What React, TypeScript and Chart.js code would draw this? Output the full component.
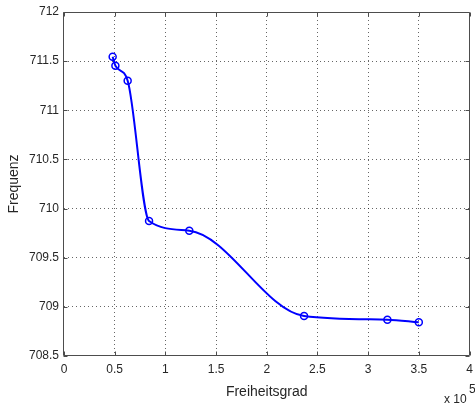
import React, { useEffect, useRef } from "react";
import { Chart, registerables } from "chart.js";

Chart.register(...registerables);

// Freiheitsgrad (degrees of freedom) and Frequenz values
const freiheitsgrad = [48000, 50700, 62800, 83900, 123600, 236800, 319000, 350000];
const frequenz = [711.545, 711.454, 711.301, 709.874, 709.775, 708.907, 708.870, 708.843];

const xTicks = [0, 50000, 100000, 150000, 200000, 250000, 300000, 350000, 400000];
const yTicks = [708.5, 709, 709.5, 710, 710.5, 711, 711.5, 712];

const xTitle = "Freiheitsgrad";
const yTitle = "Frequenz";
const xExponentBase = "x 10";
const xExponent = "5";

const FONT = "'Liberation Sans', Arial, Helvetica, sans-serif";

export default function App() {
  const canvasRef = useRef<HTMLCanvasElement | null>(null);

  useEffect(() => {
    const canvas = canvasRef.current;
    if (!canvas) return;

    const frame = {
      id: "matlabFrame",
      afterDraw(chart: any) {
        const { ctx, chartArea } = chart;
        const { left, right, top, bottom } = chartArea;
        const xs = chart.scales.x;
        const ys = chart.scales.y;
        ctx.save();
        ctx.strokeStyle = "#4d4d4d";
        ctx.lineWidth = 1;
        const L = Math.round(left) - 0.5;
        const R = Math.round(right) - 0.5;
        const T = Math.round(top) + 0.5;
        const B = Math.round(bottom) - 0.5;
        ctx.beginPath();
        ctx.rect(L, T, R - L, B - T);
        ctx.stroke();
        ctx.beginPath();
        xTicks.forEach((v) => {
          const p = Math.round(xs.getPixelForValue(v)) + 0.5;
          ctx.moveTo(p, B);
          ctx.lineTo(p, B - 4);
          ctx.moveTo(p, T);
          ctx.lineTo(p, T + 4);
        });
        yTicks.forEach((v) => {
          const p = Math.round(ys.getPixelForValue(v)) + 0.5;
          ctx.moveTo(L, p);
          ctx.lineTo(L + 4, p);
          ctx.moveTo(R, p);
          ctx.lineTo(R - 4, p);
        });
        ctx.stroke();

        ctx.fillStyle = "#262626";
        ctx.font = `14px ${FONT}`;
        ctx.textAlign = "center";
        ctx.textBaseline = "alphabetic";
        ctx.fillText(xTitle, (left + right) / 2, 396);
        ctx.save();
        ctx.translate(18, (top + bottom) / 2);
        ctx.rotate(-Math.PI / 2);
        ctx.fillText(yTitle, 0, 0);
        ctx.restore();

        ctx.font = `12px ${FONT}`;
        ctx.textAlign = "left";
        ctx.fillText(xExponentBase, 444, 403);
        ctx.fillText(xExponent, 469, 393);
        ctx.restore();
      },
    };

    const chart = new Chart(canvas, {
      type: "line",
      data: {
        datasets: [
          {
            data: freiheitsgrad.map((x, i) => ({ x, y: frequenz[i] })),
            borderColor: "#0000ff",
            borderWidth: 2,
            pointRadius: 3.5,
            pointBorderWidth: 1.5,
            pointBorderColor: "#0000ff",
            pointBackgroundColor: "rgba(0,0,0,0)",
            cubicInterpolationMode: "monotone",
            fill: false,
          },
        ],
      },
      options: {
        animation: false,
        responsive: false,
        devicePixelRatio: 1,
        layout: { padding: { top: 12, right: 1, left: 0, bottom: 0 } },
        plugins: { legend: { display: false }, tooltip: { enabled: false } },
        scales: {
          x: {
            type: "linear",
            min: 0,
            max: 400000,
            afterBuildTicks: (scale: any) => {
              scale.ticks = xTicks.map((v) => ({ value: v }));
            },
            afterFit: (scale: any) => {
              scale.height = 54;
              scale.paddingLeft = 0;
              scale.paddingRight = 0;
            },
            ticks: {
              padding: 6,
              maxRotation: 0,
              autoSkip: false,
              color: "#262626",
              font: { family: FONT, size: 12 },
              callback: (v: any) => String(Number(v) / 100000),
            },
            grid: {
              drawTicks: false,
              color: (c: any) =>
                c.tick && (c.tick.value === 0 || c.tick.value === 400000)
                  ? "rgba(0,0,0,0)"
                  : "rgba(0,0,0,0.6)",
              lineWidth: 1,
            },
            border: { display: false, dash: [1, 3] },
          },
          y: {
            type: "linear",
            min: 708.5,
            max: 712,
            afterBuildTicks: (scale: any) => {
              scale.ticks = yTicks.map((v) => ({ value: v }));
            },
            afterFit: (scale: any) => {
              scale.width = 64;
              scale.paddingTop = 0;
              scale.paddingBottom = 0;
            },
            ticks: {
              padding: 5,
              autoSkip: false,
              color: "#262626",
              font: { family: FONT, size: 12 },
              callback: (v: any) => String(v),
            },
            grid: {
              drawTicks: false,
              color: (c: any) =>
                c.tick && (c.tick.value === 708.5 || c.tick.value === 712)
                  ? "rgba(0,0,0,0)"
                  : "rgba(0,0,0,0.6)",
              lineWidth: 1,
            },
            border: { display: false, dash: [1, 3] },
          },
        },
      },
      plugins: [frame],
    });

    return () => chart.destroy();
  }, []);

  return (
    <div style={{ position: "absolute", left: 0, top: 0, width: 475, height: 410, background: "#fff" }}>
      <canvas ref={canvasRef} width={475} height={410} style={{ display: "block" }} />
    </div>
  );
}
